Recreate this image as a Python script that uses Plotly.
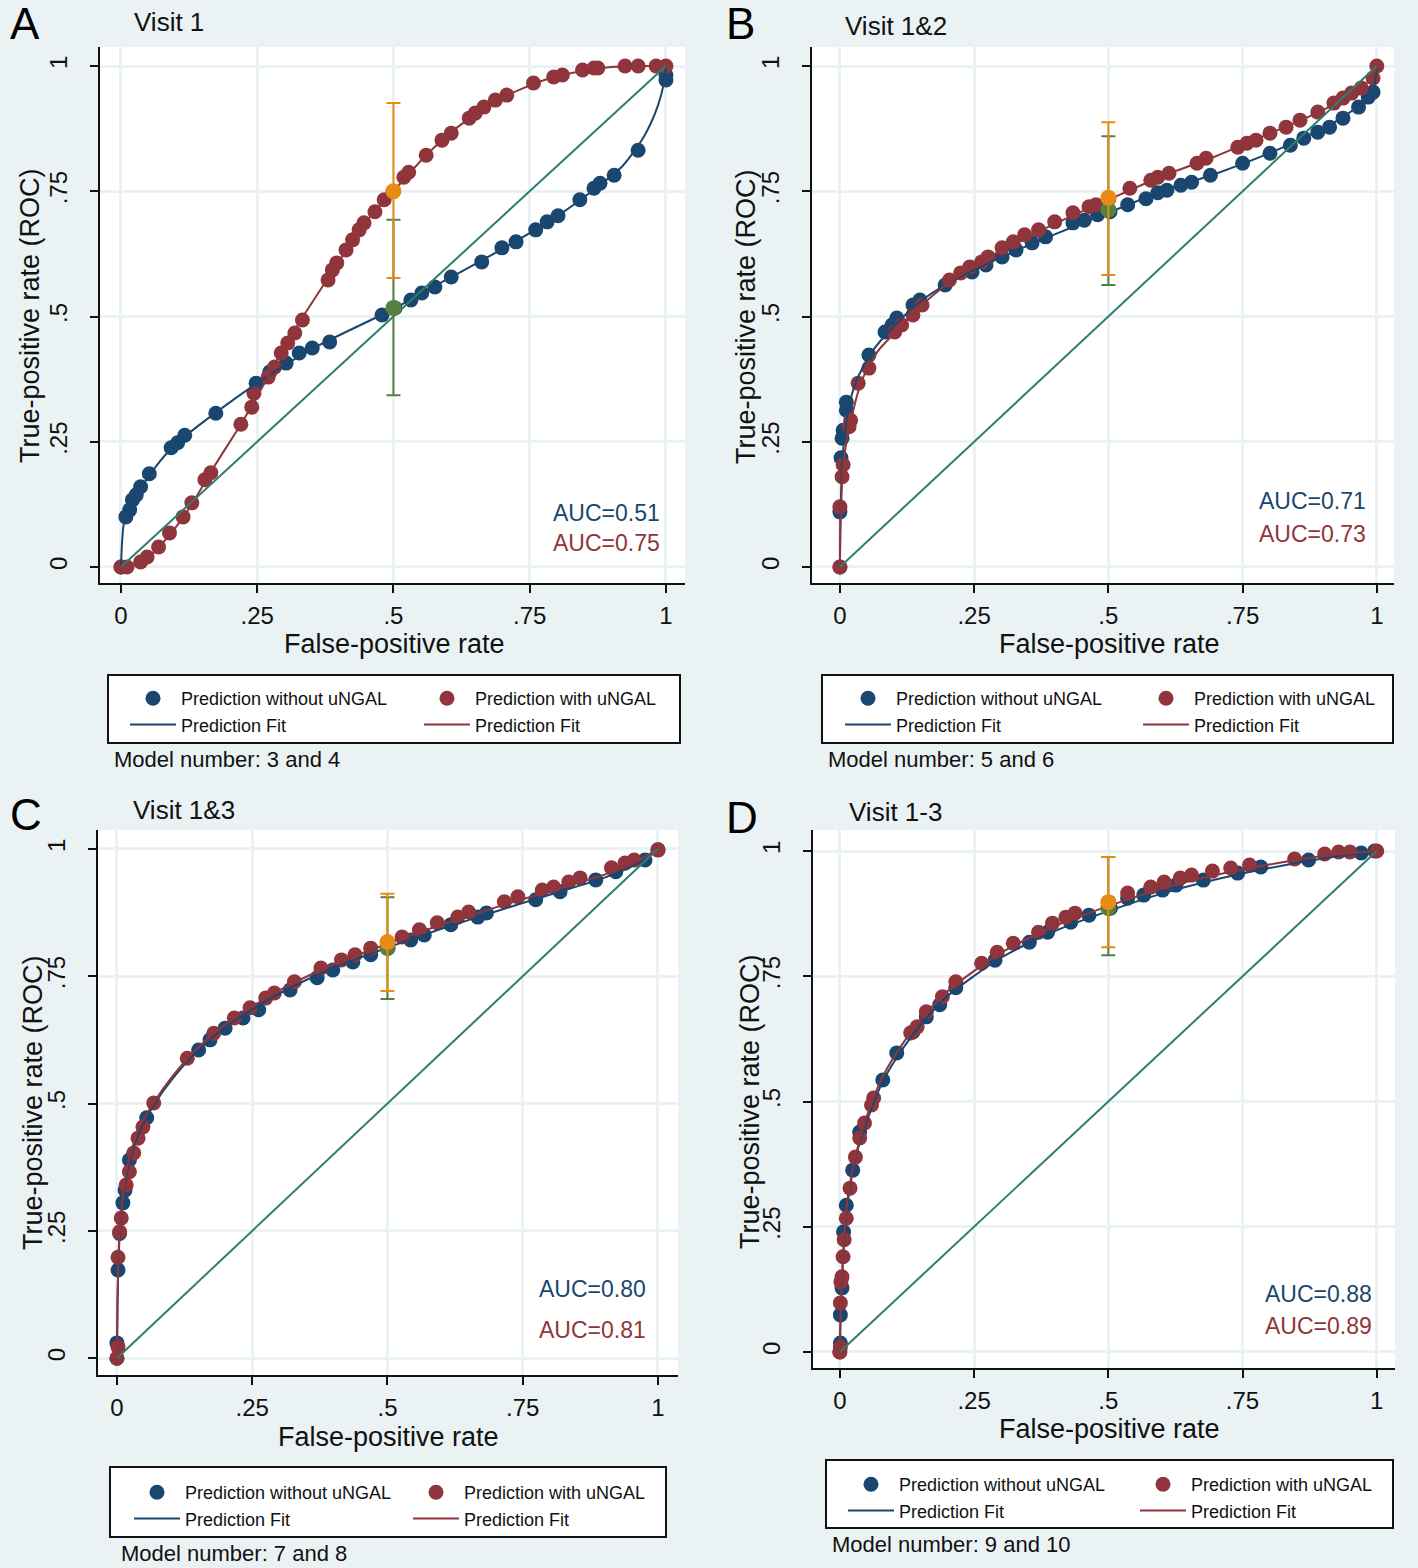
"""ROC curves with and without uNGAL, four visit combinations (2x2 Stata-style panel)."""

import plotly.graph_objects as go

W, H = 1418, 1568

NAVY = "#1A476F"
MAROON = "#90353B"
ORANGE = "#E88A14"
GREEN = "#55803F"
DIAG = "#2E7E6E"
BG = "#EAF2F3"
FONT = "Liberation Sans, Arial, sans-serif"

TICKS = [0, 0.25, 0.5, 0.75, 1]
TICK_TEXT = ["0", ".25", ".5", ".75", "1"]
DIAG_LINE = [0, 1]

# ---- Panel A: Visit 1 -------------------------------------------------------
A_WO_X = [0, 0.009, 0.016, 0.021, 0.028, 0.036, 0.052, 0.092, 0.104, 0.117, 0.174, 0.248,
          0.273, 0.303, 0.327, 0.351, 0.383, 0.479, 0.503, 0.532, 0.552, 0.576, 0.606, 0.662,
          0.699, 0.725, 0.761, 0.782, 0.802, 0.842, 0.868, 0.879, 0.905, 0.949, 1.0, 1.0]
A_WO_Y = [0, 0.100, 0.114, 0.134, 0.144, 0.160, 0.186, 0.238, 0.248, 0.263, 0.307, 0.367,
          0.389, 0.407, 0.427, 0.437, 0.449, 0.503, 0.517, 0.533, 0.547, 0.559, 0.579, 0.609,
          0.637, 0.649, 0.673, 0.689, 0.701, 0.733, 0.756, 0.766, 0.782, 0.832, 0.972, 0.982]
A_W_X = [0, 0.011, 0.036, 0.048, 0.069, 0.089, 0.114, 0.130, 0.154, 0.165, 0.220, 0.240,
         0.244, 0.270, 0.282, 0.294, 0.306, 0.319, 0.333, 0.380, 0.388, 0.396, 0.413, 0.425,
         0.437, 0.446, 0.466, 0.483, 0.499, 0.519, 0.528, 0.560, 0.589, 0.606, 0.639, 0.650,
         0.666, 0.687, 0.708, 0.757, 0.794, 0.810, 0.847, 0.868, 0.875, 0.925, 0.949, 0.982, 1.0]
A_W_Y = [0, 0, 0.010, 0.020, 0.040, 0.068, 0.100, 0.128, 0.174, 0.188, 0.285, 0.319,
         0.347, 0.379, 0.399, 0.427, 0.447, 0.467, 0.493, 0.573, 0.593, 0.607, 0.633, 0.653,
         0.673, 0.687, 0.709, 0.733, 0.749, 0.778, 0.788, 0.822, 0.852, 0.866, 0.896, 0.906,
         0.918, 0.932, 0.942, 0.966, 0.978, 0.982, 0.992, 0.996, 0.996, 1.0, 1.0, 1.0, 1.0]
A_FIT_WO_X = [0, 0.002, 0.005, 0.012, 0.03, 0.06, 0.10, 0.17, 0.25, 0.35, 0.50, 0.60,
              0.70, 0.80, 0.87, 0.92, 0.96, 0.985, 0.997, 1.0]
A_FIT_WO_Y = [0, 0.05, 0.085, 0.108, 0.145, 0.195, 0.245, 0.305, 0.367, 0.435, 0.515, 0.575,
              0.635, 0.700, 0.755, 0.800, 0.860, 0.920, 0.970, 1.0]
A_FIT_W_X = [0, 0.04, 0.09, 0.13, 0.165, 0.22, 0.26, 0.30, 0.34, 0.40, 0.45, 0.50, 0.56,
             0.62, 0.70, 0.78, 0.87, 0.95, 1.0]
A_FIT_W_Y = [0, 0.010, 0.065, 0.125, 0.190, 0.285, 0.360, 0.440, 0.510, 0.610, 0.690, 0.750,
             0.822, 0.880, 0.937, 0.973, 0.995, 1.0, 1.0]
A_ORANGE = (0.5, 0.750, 0.577, 0.926)   # point, lower, upper
A_GREEN = (0.5, 0.517, 0.343, 0.693)
A_AUC = ("AUC=0.51", "AUC=0.75")

# ---- Panel B: Visit 1&2 -----------------------------------------------------
B_WO_X = [0, 0, 0.002, 0.004, 0.006, 0.012, 0.012, 0.054, 0.084, 0.097, 0.106, 0.136, 0.149,
          0.196, 0.246, 0.272, 0.302, 0.328, 0.358, 0.383, 0.434, 0.455, 0.480, 0.503, 0.536,
          0.570, 0.592, 0.609, 0.635, 0.655, 0.690, 0.750, 0.801, 0.839, 0.864, 0.890, 0.912,
          0.937, 0.966, 0.984, 0.993]
B_WO_Y = [0, 0.110, 0.218, 0.257, 0.273, 0.313, 0.329, 0.423, 0.469, 0.483, 0.497, 0.523,
          0.533, 0.563, 0.589, 0.603, 0.619, 0.633, 0.647, 0.659, 0.687, 0.692, 0.703, 0.709,
          0.723, 0.735, 0.747, 0.752, 0.762, 0.768, 0.782, 0.806, 0.826, 0.842, 0.856, 0.868,
          0.878, 0.896, 0.918, 0.938, 0.948]
B_W_X = [0, 0, 0.004, 0.006, 0.017, 0.020, 0.034, 0.054, 0.102, 0.115, 0.136, 0.153, 0.204,
         0.225, 0.242, 0.264, 0.276, 0.302, 0.323, 0.344, 0.370, 0.400, 0.434, 0.464, 0.477,
         0.501, 0.540, 0.579, 0.592, 0.613, 0.665, 0.682, 0.741, 0.758, 0.775, 0.801, 0.831,
         0.857, 0.890, 0.920, 0.937, 0.953, 0.971, 0.993, 1.0]
B_W_Y = [0, 0.120, 0.180, 0.204, 0.280, 0.293, 0.367, 0.397, 0.469, 0.483, 0.503, 0.523,
         0.573, 0.587, 0.599, 0.609, 0.619, 0.637, 0.649, 0.663, 0.673, 0.689, 0.707, 0.719,
         0.723, 0.735, 0.756, 0.772, 0.778, 0.786, 0.806, 0.816, 0.838, 0.846, 0.852, 0.866,
         0.878, 0.892, 0.908, 0.926, 0.936, 0.946, 0.956, 0.976, 1.0]
B_FIT_WO_X = [0, 0.001, 0.005, 0.015, 0.03, 0.06, 0.10, 0.15, 0.20, 0.30, 0.40, 0.50, 0.60,
              0.70, 0.80, 0.88, 0.94, 0.98, 0.995, 1.0]
B_FIT_WO_Y = [0, 0.10, 0.22, 0.31, 0.37, 0.43, 0.48, 0.53, 0.565, 0.618, 0.664, 0.707, 0.750,
              0.785, 0.826, 0.865, 0.900, 0.935, 0.960, 1.0]
B_FIT_W_X = [0, 0.002, 0.008, 0.02, 0.04, 0.07, 0.10, 0.15, 0.20, 0.30, 0.40, 0.50, 0.60,
             0.70, 0.80, 0.90, 0.96, 0.99, 1.0]
B_FIT_W_Y = [0, 0.12, 0.22, 0.29, 0.37, 0.43, 0.465, 0.52, 0.565, 0.632, 0.685, 0.733, 0.780,
             0.820, 0.865, 0.912, 0.950, 0.975, 1.0]
B_ORANGE = (0.5, 0.737, 0.583, 0.888)
B_GREEN = (0.5, 0.713, 0.563, 0.860)
B_AUC = ("AUC=0.71", "AUC=0.73")

# ---- Panel C: Visit 1&3 -----------------------------------------------------
C_WO_X = [0, 0, 0.002, 0.005, 0.011, 0.015, 0.023, 0.055, 0.151, 0.172, 0.200, 0.233, 0.262,
          0.320, 0.370, 0.399, 0.436, 0.469, 0.501, 0.543, 0.568, 0.617, 0.667, 0.683, 0.774,
          0.819, 0.885, 0.922, 0.976, 1.0]
C_WO_Y = [0, 0.030, 0.173, 0.245, 0.305, 0.330, 0.389, 0.472, 0.605, 0.625, 0.648, 0.668,
          0.684, 0.723, 0.747, 0.762, 0.778, 0.792, 0.805, 0.821, 0.831, 0.851, 0.866, 0.874,
          0.900, 0.916, 0.939, 0.955, 0.978, 0.998]
C_W_X = [0, 0.002, 0.002, 0.005, 0.008, 0.017, 0.023, 0.031, 0.039, 0.048, 0.068, 0.130,
         0.179, 0.217, 0.246, 0.275, 0.291, 0.328, 0.377, 0.415, 0.440, 0.469, 0.501, 0.527,
         0.559, 0.592, 0.630, 0.650, 0.716, 0.741, 0.786, 0.807, 0.835, 0.856, 0.914, 0.939,
         0.956, 1.0]
C_W_Y = [0, 0.022, 0.198, 0.248, 0.275, 0.340, 0.366, 0.403, 0.432, 0.454, 0.501, 0.589,
         0.638, 0.668, 0.688, 0.707, 0.717, 0.739, 0.766, 0.782, 0.792, 0.805, 0.815, 0.827,
         0.841, 0.855, 0.866, 0.876, 0.896, 0.906, 0.919, 0.925, 0.935, 0.943, 0.963, 0.972,
         0.978, 0.998]
C_FIT_WO_X = [0, 0.001, 0.004, 0.01, 0.02, 0.04, 0.07, 0.10, 0.15, 0.20, 0.30, 0.40, 0.50,
              0.60, 0.70, 0.80, 0.90, 0.96, 1.0]
C_FIT_WO_Y = [0, 0.10, 0.22, 0.30, 0.37, 0.44, 0.50, 0.545, 0.605, 0.650, 0.716, 0.766, 0.806,
              0.843, 0.877, 0.910, 0.943, 0.970, 1.0]
C_FIT_W_X = [0, 0.001, 0.004, 0.01, 0.02, 0.04, 0.07, 0.10, 0.15, 0.20, 0.30, 0.40, 0.50,
             0.60, 0.70, 0.80, 0.90, 0.96, 1.0]
C_FIT_W_Y = [0, 0.11, 0.23, 0.31, 0.38, 0.45, 0.505, 0.55, 0.61, 0.655, 0.722, 0.773, 0.814,
             0.851, 0.885, 0.917, 0.949, 0.975, 1.0]
C_ORANGE = (0.5, 0.817, 0.721, 0.912)
C_GREEN = (0.5, 0.805, 0.705, 0.905)
C_AUC = ("AUC=0.80", "AUC=0.81")

# ---- Panel D: Visit 1-3 -----------------------------------------------------
D_WO_X = [0, 0.001, 0.001, 0.004, 0.007, 0.012, 0.024, 0.037, 0.080, 0.106, 0.136, 0.161,
          0.186, 0.216, 0.289, 0.353, 0.387, 0.430, 0.464, 0.504, 0.536, 0.566, 0.601, 0.626,
          0.677, 0.741, 0.784, 0.873, 0.971, 0.996]
D_WO_Y = [0, 0.018, 0.074, 0.128, 0.240, 0.293, 0.363, 0.439, 0.543, 0.597, 0.639, 0.669,
          0.693, 0.727, 0.782, 0.818, 0.838, 0.858, 0.872, 0.886, 0.906, 0.912, 0.922, 0.932,
          0.942, 0.956, 0.968, 0.982, 0.996, 1.0]
D_W_X = [0, 0.001, 0.001, 0.002, 0.004, 0.006, 0.008, 0.012, 0.019, 0.029, 0.037, 0.046,
         0.059, 0.063, 0.132, 0.144, 0.161, 0.191, 0.216, 0.264, 0.293, 0.323, 0.370, 0.396,
         0.421, 0.438, 0.501, 0.536, 0.579, 0.604, 0.634, 0.655, 0.694, 0.728, 0.763, 0.847,
         0.903, 0.929, 0.950, 1.0]
D_W_Y = [0, 0.010, 0.098, 0.140, 0.150, 0.190, 0.224, 0.267, 0.327, 0.389, 0.427, 0.457,
         0.493, 0.507, 0.637, 0.649, 0.679, 0.709, 0.739, 0.776, 0.798, 0.816, 0.838, 0.856,
         0.868, 0.876, 0.898, 0.916, 0.928, 0.938, 0.946, 0.952, 0.960, 0.966, 0.972, 0.984,
         0.994, 0.998, 0.998, 1.0]
D_FIT_WO_X = [0, 0.001, 0.004, 0.008, 0.015, 0.03, 0.05, 0.08, 0.12, 0.16, 0.20, 0.30, 0.40,
              0.50, 0.60, 0.70, 0.80, 0.90, 1.0]
D_FIT_WO_Y = [0, 0.05, 0.14, 0.22, 0.30, 0.39, 0.46, 0.54, 0.61, 0.665, 0.71, 0.787, 0.84,
              0.88, 0.915, 0.943, 0.966, 0.985, 1.0]
D_FIT_W_X = [0, 0.001, 0.004, 0.008, 0.015, 0.03, 0.05, 0.08, 0.12, 0.16, 0.20, 0.30, 0.40,
             0.50, 0.60, 0.70, 0.80, 0.90, 1.0]
D_FIT_W_Y = [0, 0.06, 0.15, 0.23, 0.31, 0.395, 0.47, 0.55, 0.62, 0.675, 0.72, 0.797, 0.85,
             0.89, 0.925, 0.952, 0.973, 0.99, 1.0]
D_ORANGE = (0.5, 0.898, 0.808, 0.988)
D_GREEN = (0.5, 0.886, 0.792, 0.988)
D_AUC = ("AUC=0.88", "AUC=0.89")

LETTERS = ["A", "B", "C", "D"]
TITLES = ["Visit 1", "Visit 1&2", "Visit 1&3", "Visit 1-3"]
MODELS = ["Model number: 3 and 4", "Model number: 5 and 6",
          "Model number: 7 and 8", "Model number: 9 and 10"]
LEG_WO = "Prediction without uNGAL"
LEG_W = "Prediction with uNGAL"
LEG_FIT = "Prediction Fit"


def px(x):
    return x / W


def py(y):
    return 1 - y / H


# Pixel layout of each panel (plot box, axis ranges, text anchors)
PANELS = [
    dict(data=(A_WO_X, A_WO_Y, A_W_X, A_W_Y, A_FIT_WO_X, A_FIT_WO_Y, A_FIT_W_X, A_FIT_W_Y),
         orange=A_ORANGE, green=A_GREEN, auc=A_AUC,
         box=(100, 685, 47, 583), xr=(-0.0385, 1.035), yr=(-0.032, 1.038),
         letter=(8, 24), title=(132, 22), ytitle=(30, 316), xtitle=(394, 644),
         auc_pos=(662, 513, 543), legbox=(108, 680, 675, 743), legtext=(181, 475, 680),
         model=(112, 760)),
    dict(data=(B_WO_X, B_WO_Y, B_W_X, B_W_Y, B_FIT_WO_X, B_FIT_WO_Y, B_FIT_W_X, B_FIT_W_Y),
         orange=B_ORANGE, green=B_GREEN, auc=B_AUC,
         box=(812, 1394, 47, 583), xr=(-0.052, 1.032), yr=(-0.032, 1.038),
         letter=(724, 24), title=(843, 26), ytitle=(746, 316), xtitle=(1109, 644),
         auc_pos=(1368, 501, 534), legbox=(822, 1393, 675, 743), legtext=(896, 1194, 680),
         model=(826, 760)),
    dict(data=(C_WO_X, C_WO_Y, C_W_X, C_W_Y, C_FIT_WO_X, C_FIT_WO_Y, C_FIT_W_X, C_FIT_W_Y),
         orange=C_ORANGE, green=C_GREEN, auc=C_AUC,
         box=(98, 678, 830, 1375), xr=(-0.035, 1.037), yr=(-0.033, 1.037),
         letter=(8, 815), title=(131, 810), ytitle=(33, 1103), xtitle=(388, 1437),
         auc_pos=(648, 1289, 1330), legbox=(110, 666, 1467, 1537), legtext=(185, 464, 1474),
         model=(119, 1553)),
    dict(data=(D_WO_X, D_WO_Y, D_W_X, D_W_Y, D_FIT_WO_X, D_FIT_WO_Y, D_FIT_W_X, D_FIT_W_Y),
         orange=D_ORANGE, green=D_GREEN, auc=D_AUC,
         box=(813, 1395, 830, 1368), xr=(-0.05, 1.034), yr=(-0.032, 1.042),
         letter=(724, 818), title=(847, 812), ytitle=(750, 1101), xtitle=(1109, 1429),
         auc_pos=(1374, 1294, 1326), legbox=(826, 1393, 1460, 1528), legtext=(899, 1191, 1466),
         model=(830, 1544)),
]

fig = go.Figure()
annotations = []
shapes = []
layout_extra = {}

for i, p in enumerate(PANELS):
    n = "" if i == 0 else str(i + 1)
    xa, ya = "x" + n, "y" + n
    leg1 = "legend" + ("" if i == 0 else str(2 * i + 1))
    leg2 = "legend" + str(2 * i + 2)
    wo_x, wo_y, w_x, w_y, fwo_x, fwo_y, fw_x, fw_y = p["data"]

    fig.add_trace(go.Scatter(x=wo_x, y=wo_y, mode="markers", name=LEG_WO, legend=leg1,
                             marker=dict(color=NAVY, size=15), xaxis=xa, yaxis=ya))
    fig.add_trace(go.Scatter(x=w_x, y=w_y, mode="markers", name=LEG_W, legend=leg2,
                             marker=dict(color=MAROON, size=15), xaxis=xa, yaxis=ya))
    fig.add_trace(go.Scatter(x=fwo_x, y=fwo_y, mode="lines", name=LEG_FIT, legend=leg1,
                             line=dict(color=NAVY, width=2, shape="spline", smoothing=0.7),
                             xaxis=xa, yaxis=ya))
    fig.add_trace(go.Scatter(x=fw_x, y=fw_y, mode="lines", name=LEG_FIT, legend=leg2,
                             line=dict(color=MAROON, width=2, shape="spline", smoothing=0.7),
                             xaxis=xa, yaxis=ya))
    fig.add_trace(go.Scatter(x=DIAG_LINE, y=DIAG_LINE, mode="lines", showlegend=False,
                             line=dict(color=DIAG, width=2), xaxis=xa, yaxis=ya))
    for (xv, yv, lo, hi), col in ((p["green"], GREEN), (p["orange"], ORANGE)):
        fig.add_trace(go.Scatter(
            x=[xv], y=[yv], mode="markers", showlegend=False,
            marker=dict(color=col, size=16),
            error_y=dict(type="data", symmetric=False, array=[hi - yv], arrayminus=[yv - lo],
                         color=col, thickness=2, width=7),
            xaxis=xa, yaxis=ya))

    x0, x1, y0, y1 = p["box"]
    axis_common = dict(
        tickvals=TICKS, ticktext=TICK_TEXT, ticks="outside", ticklen=8, tickwidth=1.5,
        tickcolor="#111", showline=True, linecolor="#111", linewidth=1.5,
        showgrid=True, gridcolor=BG, gridwidth=2.5, zeroline=False,
        tickfont=dict(size=24, color="#111", family=FONT), fixedrange=True,
    )
    layout_extra["xaxis" + n] = dict(axis_common, domain=[px(x0), px(x1)], range=list(p["xr"]),
                                     anchor=ya, ticklabelstandoff=2)
    layout_extra["yaxis" + n] = dict(axis_common, domain=[py(y1), py(y0)], range=list(p["yr"]),
                                     anchor=xa, tickangle=-90, ticklabelstandoff=14)

    # panel letter and title
    lx, ly = p["letter"]
    annotations.append(dict(text=LETTERS[i], x=px(lx), y=py(ly), xanchor="left", yanchor="middle",
                            font=dict(size=44, color="#000")))
    tx, ty = p["title"]
    annotations.append(dict(text=TITLES[i], x=px(tx), y=py(ty), xanchor="left", yanchor="middle",
                            font=dict(size=26, color="#111")))
    # axis titles
    yx, yy = p["ytitle"]
    annotations.append(dict(text="True-positive rate (ROC)", x=px(yx), y=py(yy), textangle=-90,
                            xanchor="center", yanchor="middle", font=dict(size=27, color="#111")))
    xx, xy = p["xtitle"]
    annotations.append(dict(text="False-positive rate", x=px(xx), y=py(xy), xanchor="center",
                            yanchor="middle", font=dict(size=27, color="#111")))
    # AUC labels
    ax, ay1, ay2 = p["auc_pos"]
    annotations.append(dict(text=p["auc"][0], x=px(ax), y=py(ay1), xanchor="right",
                            yanchor="middle", font=dict(size=23, color=NAVY)))
    annotations.append(dict(text=p["auc"][1], x=px(ax), y=py(ay2), xanchor="right",
                            yanchor="middle", font=dict(size=23, color=MAROON)))
    # model note
    mx, my = p["model"]
    annotations.append(dict(text=MODELS[i], x=px(mx), y=py(my), xanchor="left", yanchor="middle",
                            font=dict(size=22, color="#111")))
    # legend frame and the two legend columns
    bx0, bx1, by0, by1 = p["legbox"]
    shapes.append(dict(type="rect", xref="paper", yref="paper", x0=px(bx0), x1=px(bx1),
                       y0=py(by1), y1=py(by0), line=dict(color="#111", width=2),
                       fillcolor="white", layer="below"))
    t1, t2, ttop = p["legtext"]
    for leg, tx_ in ((leg1, t1), (leg2, t2)):
        layout_extra[leg] = dict(x=px(tx_ - 56), y=py(ttop), xanchor="left", yanchor="top",
                                 bgcolor="rgba(0,0,0,0)", borderwidth=0, itemwidth=46,
                                 font=dict(size=18, color="#111", family=FONT),
                                 tracegroupgap=0, itemclick=False, itemdoubleclick=False)

for a in annotations:
    a.update(xref="paper", yref="paper", showarrow=False)

fig.update_layout(
    width=W, height=H,
    margin=dict(l=0, r=0, t=0, b=0),
    paper_bgcolor=BG,
    plot_bgcolor="white",
    font=dict(family=FONT, color="#111"),
    annotations=annotations,
    shapes=shapes,
    **layout_extra,
)

fig.write_html("out.html", config={"displayModeBar": False},
               post_script="document.body.style.margin='0';document.body.style.padding='0';")
